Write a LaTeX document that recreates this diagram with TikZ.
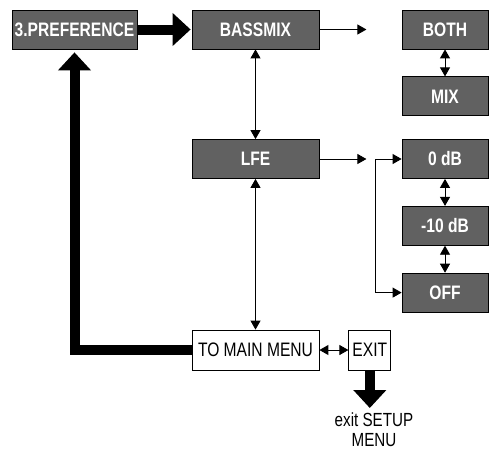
\documentclass[tikz,border=0pt]{standalone}
\usepackage{fontspec}
\setmainfont{Liberation Sans}[FakeStretch=0.8]
\usetikzlibrary{arrows.meta,positioning}
\definecolor{panelgray}{rgb}{0.38,0.38,0.38}
\tikzset{
  ajuste/.style={
    draw=black,
    fill=panelgray,
    text=white,
    line width=0.8pt,
    minimum height=39pt,
    inner sep=0pt,
    font=\fontsize{19.5}{21}\selectfont\bfseries
  },
  marco/.style={
    draw=black,
    fill=white,
    line width=0.8pt,
    minimum height=40pt,
    inner sep=0pt,
    font=\fontsize{19.5}{21}\selectfont
  },
  arrow/.style={
    >={Triangle[width=10pt,length=9pt]},
    line width=0.9pt
  },
  gruesa/.style={
    -{Triangle[width=32pt,length=18pt]},
    line width=10pt,
    line join=miter
  }
}

\begin{document}
\begin{tikzpicture}[x=1pt,y=-1pt]
\useasboundingbox (0,0) rectangle (494,450);
\node[ajuste, minimum width=125pt] (pref) at (74.5,29.5) {3.PREFERENCE};
\node[ajuste, minimum width=127pt] (bass) at (255.5,29.5) {BASSMIX};
\node[ajuste, minimum width=86pt] (both) at (445,29.5) {BOTH};
\node[ajuste, minimum width=86pt, below=27pt of both] (mix) {MIX};
\node[ajuste, minimum width=127pt] (lfe) at (255.5,159) {LFE};
\node[ajuste, minimum width=86pt] (cero) at (445,159) {0 dB};
\node[ajuste, minimum width=86pt, below=27pt of cero] (menos) {-10 dB};
\node[ajuste, minimum width=86pt, below=27pt of menos] (off) {OFF};
\node[marco, minimum width=127pt] (main) at (255.5,350) {TO MAIN MENU};
\node[marco, minimum width=42pt, right=29pt of main] (exit) {EXIT};
\node[anchor=north, align=center, inner sep=0pt, font=\fontsize{19}{19.5}\selectfont] (fin) at (374,413) {exit SETUP\\MENU};
\coordinate (bassfin) at ([xshift=47pt]bass.east);
\coordinate (lfefin) at ([xshift=47pt]lfe.east);
\coordinate (br) at ([xshift=-26pt]cero.west);
% thick ones
\draw[gruesa, shorten >=1pt] (pref) -- (bass);
\draw[gruesa, shorten >=3pt] (main.west) -| (pref.south);
\draw[gruesa, shorten >=5pt] (exit.south) -- (exit.south |- fin.north);
% thin ones
\draw[arrow,->] (bass) -- (bassfin);
\draw[arrow,->] (lfe) -- (lfefin);
\draw[arrow,<->] (both) -- (mix);
\draw[arrow,<->] (bass) -- (lfe);
\draw[arrow,<->] (lfe) -- (main);
\draw[arrow,<->] (cero) -- (menos);
\draw[arrow,<->] (menos) -- (off);
\draw[arrow,<->] (main) -- (exit);
\draw[arrow,->] (br) -- (cero.west);
\draw[arrow,->] (br) |- (off.west);
\end{tikzpicture}
\end{document}
